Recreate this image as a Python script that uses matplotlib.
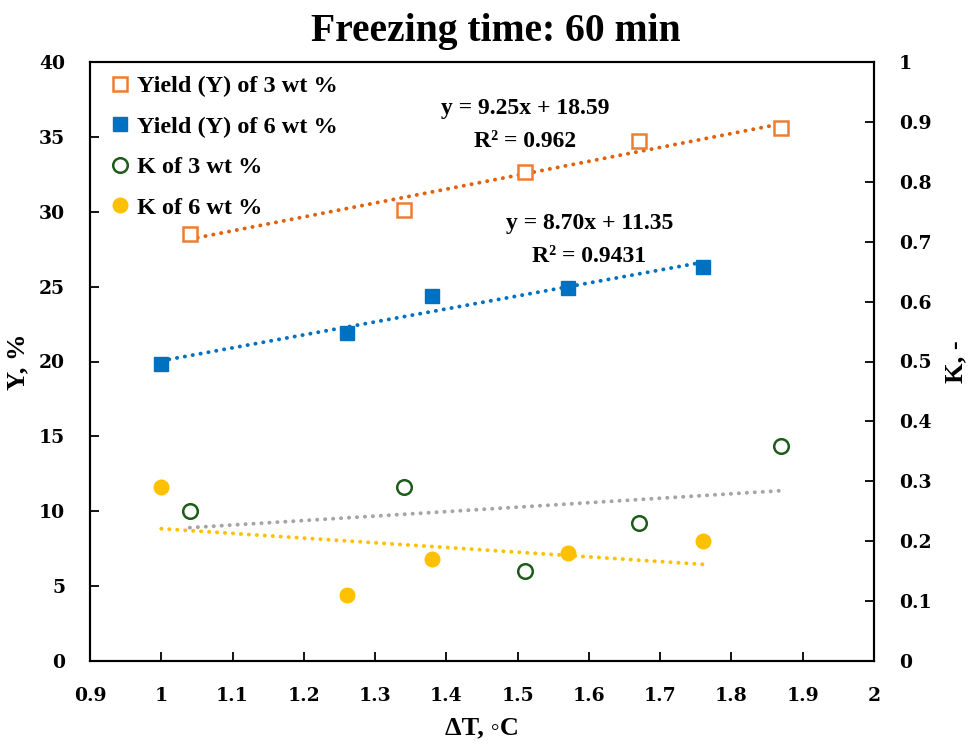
import numpy as np
import matplotlib
matplotlib.use("Agg")
import matplotlib.pyplot as plt
from matplotlib.lines import Line2D

plt.rcParams['font.family'] = ['Liberation Serif', 'DejaVu Serif']
plt.rcParams['font.weight'] = 'bold'

# Data
x_3wt = [1.04, 1.34, 1.51, 1.67, 1.87]
x_6wt = [1.00, 1.26, 1.38, 1.57, 1.76]
yield_3wt = [28.5, 30.1, 32.65, 34.7, 35.6]
yield_6wt = [19.8, 21.9, 24.4, 24.9, 26.3]
k_3wt = [0.250, 0.290, 0.150, 0.230, 0.359]
k_6wt = [0.290, 0.110, 0.170, 0.180, 0.200]

labels = ["Yield (Y) of 3 wt %", "Yield (Y) of 6 wt %", "K of 3 wt %", "K of 6 wt %"]
eq_texts = ["y = 9.25x + 18.59", "R\u00b2 = 0.962", "y = 8.70x + 11.35", "R\u00b2 = 0.9431"]
x_ticks = [0.9, 1, 1.1, 1.2, 1.3, 1.4, 1.5, 1.6, 1.7, 1.8, 1.9, 2]
x_tick_labels = ["0.9", "1", "1.1", "1.2", "1.3", "1.4", "1.5", "1.6", "1.7", "1.8", "1.9", "2"]
y_ticks = [0, 5, 10, 15, 20, 25, 30, 35, 40]
k_ticks = [0, 0.1, 0.2, 0.3, 0.4, 0.5, 0.6, 0.7, 0.8, 0.9, 1]
k_tick_labels = ["0", "0.1", "0.2", "0.3", "0.4", "0.5", "0.6", "0.7", "0.8", "0.9", "1"]

c_orange = "#ED7D31"
c_orange_tr = "#E0600C"
c_blue = "#0070C0"
c_green = "#1E5C1A"
c_yellow = "#FFC000"
c_gray = "#A5A5A5"

fig = plt.figure(figsize=(9.69, 7.51), dpi=100)
ax = fig.add_axes([90/969, 1-661/751, (874-90)/969, (661-62)/751])
ax2 = ax.twinx()

dot = (0, (0.05, 2.0))

def trend(axis, xs, ys, color):
    p = np.polyfit(xs, ys, 1)
    xx = np.array([min(xs), max(xs)])
    axis.plot(xx, np.polyval(p, xx), linestyle=dot, color=color, lw=2.8,
              dash_capstyle='round', zorder=2)

trend(ax, x_3wt, yield_3wt, c_orange_tr)
trend(ax, x_6wt, yield_6wt, c_blue)
trend(ax2, x_3wt, k_3wt, c_gray)
trend(ax2, x_6wt, k_6wt, c_yellow)

ms = 10
ax.plot(x_3wt, yield_3wt, 's', ms=ms, mfc='white', mec=c_orange, mew=1.8, zorder=3)
ax.plot(x_6wt, yield_6wt, 's', ms=ms, mfc=c_blue, mec=c_blue, mew=1, zorder=3)
ax2.plot(x_3wt, k_3wt, 'o', ms=ms + 0.5, mfc='white', mec=c_green, mew=1.8, zorder=3)
ax2.plot(x_6wt, k_6wt, 'o', ms=ms + 0.5, mfc=c_yellow, mec=c_yellow, mew=1, zorder=3)

ax.set_xlim(0.9, 2)
ax.set_ylim(0, 40)
ax2.set_ylim(0, 1)
ax.set_xticks(x_ticks)
ax.set_xticklabels(x_tick_labels)
ax.set_yticks(y_ticks)
ax2.set_yticks(k_ticks)
ax2.set_yticklabels(k_tick_labels)

tick_font = {'family': 'DejaVu Serif', 'weight': 'bold', 'size': 13.5}
for a in (ax, ax2):
    for s in a.spines.values():
        s.set_linewidth(1.5)
    a.tick_params(direction='in', length=6.5, width=1.3)
ax.tick_params(axis='x', pad=19)
ax.tick_params(axis='y', pad=18)
ax2.tick_params(axis='y', pad=18)
for lab in ax.get_xticklabels() + ax.get_yticklabels() + ax2.get_yticklabels():
    lab.set_fontproperties(tick_font)

ax.set_xlabel("\u0394T, \u25e6C", fontsize=19, fontweight='bold', labelpad=8)
ax.set_ylabel("Y, %", fontsize=19, fontweight='bold', labelpad=7)
ax2.set_ylabel("K, -", fontsize=19, fontweight='bold', labelpad=9)
fig.text(496/969, 1 - 31/751, "Freezing time: 60 min", fontsize=28.5,
         fontweight='bold', ha='center', va='center')

tx = [0.555, 0.555, 0.637, 0.637]
ty = [0.923, 0.868, 0.730, 0.676]
for t, x0, y0 in zip(eq_texts, tx, ty):
    ax.text(x0, y0, t, transform=ax.transAxes, ha='center', va='center',
            fontsize=17, fontweight='bold')

handles = [
    Line2D([], [], ls='none', marker='s', ms=ms, mfc='white', mec=c_orange, mew=1.8),
    Line2D([], [], ls='none', marker='s', ms=ms, mfc=c_blue, mec=c_blue),
    Line2D([], [], ls='none', marker='o', ms=ms + 0.5, mfc='white', mec=c_green, mew=1.8),
    Line2D([], [], ls='none', marker='o', ms=ms + 0.5, mfc=c_yellow, mec=c_yellow),
]
leg = ax.legend(handles, labels, loc='upper left', bbox_to_anchor=(0.01, 1.0),
                frameon=False, prop={'size': 17.5, 'weight': 'bold'},
                handlelength=0.7, handletextpad=0.35, labelspacing=0.76,
                borderaxespad=0.15)

fig.savefig("out.png", dpi=100)
